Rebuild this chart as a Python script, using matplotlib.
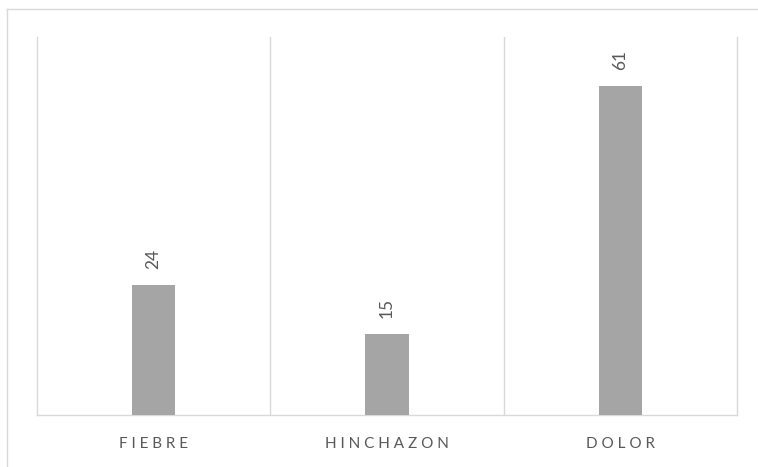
import matplotlib
matplotlib.use("Agg")
import matplotlib.pyplot as plt
from matplotlib.lines import Line2D

categories = ["FIEBRE", "HINCHAZON", "DOLOR"]
values = [24, 15, 61]

GRID = "#d9d9d9"
BAR = "#a5a5a5"
TEXT = "#595959"

plt.rcParams["font.family"] = ["Lato", "DejaVu Sans"]


def spaced(s, gap=" "):
    # Excel-like character spacing for the category labels
    return gap.join(s)


fig = plt.figure(figsize=(7.58, 4.67), dpi=100)
W, H = 758, 467

# chart area border (top and left edges visible)
fig.add_artist(Line2D([7 / W, 1], [1 - 9 / H, 1 - 9 / H], color=GRID, lw=1.0))
fig.add_artist(Line2D([7 / W, 7 / W], [0, 1 - 9 / H], color=GRID, lw=1.0))

ax = fig.add_axes([37 / W, 52 / H, 700 / W, 378 / H])
x = range(len(categories))
bars = ax.bar(x, values, width=0.185, color=BAR, zorder=3)

ax.set_xlim(-0.5, len(categories) - 0.5)
ax.set_ylim(0, 70)
ax.set_yticks([])
ax.set_xticks(list(x))
ax.set_xticklabels([spaced(c) for c in categories], fontsize=11, color=TEXT)
ax.tick_params(axis="x", length=0, pad=16)

# vertical separators between categories
for b in [i + 0.5 for i in range(len(categories) - 1)]:
    ax.axvline(b, color=GRID, lw=1.0, zorder=1)

for side in ["left", "right", "bottom"]:
    ax.spines[side].set_color(GRID)
    ax.spines[side].set_linewidth(1.0)
ax.spines["top"].set_visible(False)

for rect, v in zip(bars, values):
    ax.annotate(str(v), (rect.get_x() + rect.get_width() / 2, v),
                textcoords="offset points", xytext=(0, 11.5),
                ha="center", va="bottom", rotation=90,
                fontsize=12.5, color=TEXT)

fig.savefig("out.png", dpi=100, facecolor="white")
